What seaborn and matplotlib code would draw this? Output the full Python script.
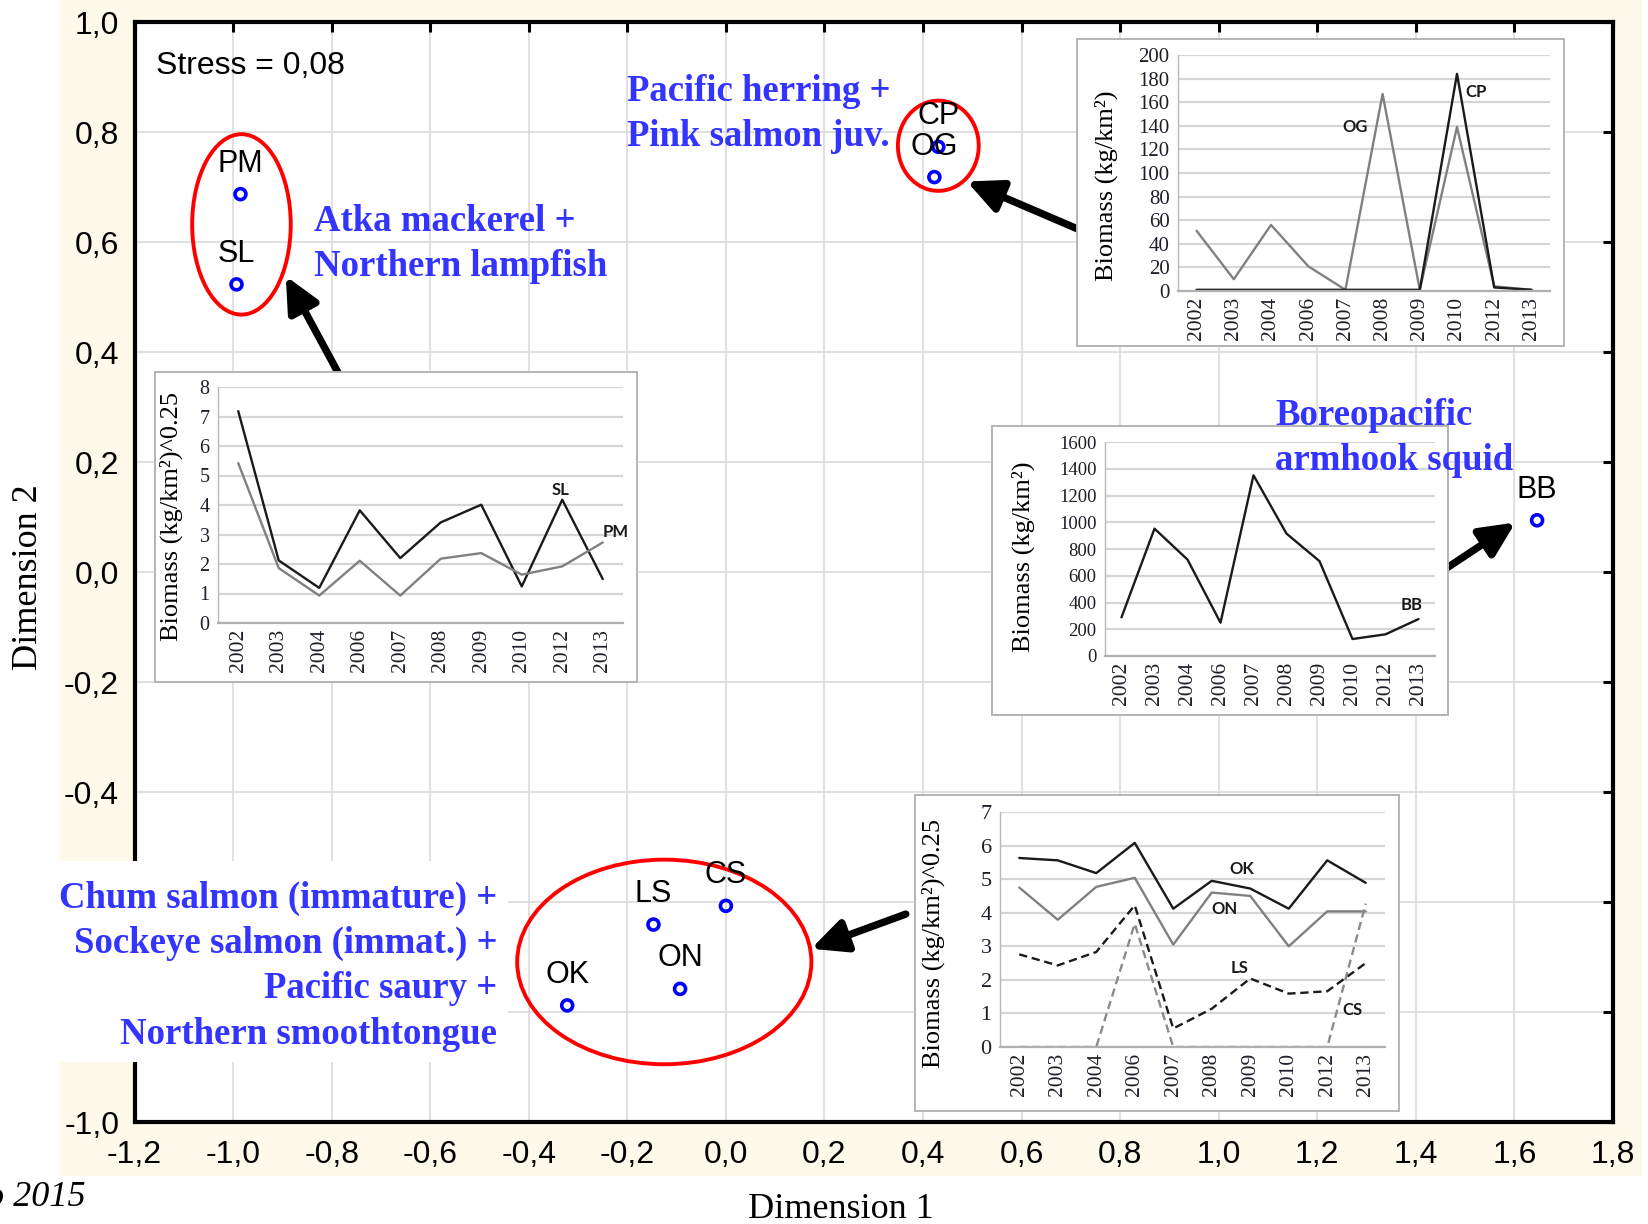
import numpy as np
import pandas as pd
import matplotlib
matplotlib.use("Agg")
import matplotlib.pyplot as plt
from matplotlib.patches import Ellipse, Rectangle
from matplotlib.ticker import FuncFormatter, FixedLocator
import seaborn as sns

# ---------------------------------------------------------------- data
# MDS ordination of species biomass (stress 0.08)
species_codes = ["PM", "SL", "CP", "OG", "BB", "LS", "CS", "ON", "OK"]
dimension_1 = [-0.985, -0.993, 0.431, 0.423, 1.646, -0.147, 0.000, -0.093, -0.322]
dimension_2 = [0.687, 0.523, 0.773, 0.718, 0.094, -0.641, -0.607, -0.758, -0.788]

years = ["2002", "2003", "2004", "2006", "2007", "2008", "2009", "2010", "2012", "2013"]

# Northern lampfish (SL) and Atka mackerel (PM), (kg/km2)^0.25
sl_biomass = [7.18, 2.12, 1.19, 3.82, 2.20, 3.41, 4.01, 1.24, 4.18, 1.49]
pm_biomass = [5.42, 1.86, 0.93, 2.11, 0.93, 2.18, 2.37, 1.64, 1.92, 2.73]

# Pink salmon juv. (CP) and Pacific herring (OG), kg/km2
cp_biomass = [1, 1, 1, 1, 1, 1, 1, 184, 3, 1]
og_biomass = [51, 10, 56, 21, 1, 167, 1, 139, 4, 1]

# Boreopacific armhook squid (BB), kg/km2
bb_biomass = [289, 952, 721, 249, 1351, 915, 709, 127, 162, 276]

# Chum salmon (OK), Northern smoothtongue (ON), Sockeye salmon (LS),
# Pacific saury (CS), (kg/km2)^0.25
ok_biomass = [5.63, 5.56, 5.18, 6.08, 4.12, 4.95, 4.72, 4.12, 5.56, 4.89]
on_biomass = [4.75, 3.79, 4.77, 5.04, 3.05, 4.60, 4.50, 3.00, 4.04, 4.04]
ls_biomass = [2.76, 2.43, 2.83, 4.22, 0.55, 1.14, 2.04, 1.59, 1.66, 2.50]
cs_biomass = [0, 0, 0, 3.67, 0, 0, 0, 0, 0, 4.27]

# ---------------------------------------------------------------- style
W, H = 1648, 1224
CREAM = "#fff9ec"
BLUE_TXT = "#3434ff"
SANS = "Liberation Sans"
SERIF = "Liberation Serif"
LABEL_FONT = ["Lato", "DejaVu Sans"]
INK = "#1a1a1a"
GREY_LINE = "#808080"
TICK_INK = "#1e1e2a"

sns.set_style("white")


def frac(l, t, r, b):
    """Pixel box (left, top, right, bottom) -> figure fraction rect."""
    return [l / W, 1 - b / H, (r - l) / W, (b - t) / H]


fig = plt.figure(figsize=(W / 100, H / 100), dpi=100)
fig.patch.set_facecolor("white")

# background panel
fig.add_artist(Rectangle((59 / W, 1 - 1176 / H), (1642 - 59) / W, 1176 / H,
                         transform=fig.transFigure, facecolor=CREAM,
                         edgecolor="none", zorder=-10))

# ---------------------------------------------------------------- main MDS plot
ax = fig.add_axes(frac(134.5, 22, 1613, 1122))
ax.set_zorder(0)
ax.set_facecolor("white")

mds = pd.DataFrame({"code": species_codes, "dim1": dimension_1, "dim2": dimension_2})
sns.scatterplot(data=mds, x="dim1", y="dim2", ax=ax, s=62, color="#0000ff",
                linewidth=2.6, zorder=4, legend=False)
pts = ax.collections[-1]
pts.set_facecolor("none")
pts.set_edgecolor("#0000ff")

for code, x, y in zip(mds["code"], mds["dim1"], mds["dim2"]):
    ax.annotate(code, (x, y), xytext=(0, 22), textcoords="offset points",
                ha="center", va="center", fontsize=22, family=SANS,
                color="black", zorder=5)

# group ellipses
for cx, cy, w, h in [(-0.983, 0.632, 0.200, 0.328),
                     (0.431, 0.775, 0.164, 0.164),
                     (-0.125, -0.709, 0.597, 0.372)]:
    ax.add_patch(Ellipse((cx, cy), w, h, fill=False, edgecolor="#ff0000",
                         linewidth=2.8, zorder=3))

# pointers from the trend panels to their groups
for head, tail in [((-0.893, 0.538), (-0.786, 0.361)),
                   ((0.489, 0.710), (0.713, 0.624)),
                   ((1.602, 0.090), (1.437, -0.008)),
                   ((0.173, -0.685), (0.365, -0.622))]:
    ax.annotate("", xy=head, xytext=tail, annotation_clip=False,
                arrowprops=dict(arrowstyle="-|>,head_length=1.05,head_width=0.5",
                                mutation_scale=20, lw=5.3, color="black",
                                shrinkA=0, shrinkB=0), zorder=6)


def comma_fmt(v, p):
    v = round(v, 1) + 0.0
    return f"{v:.1f}".replace(".", ",")


# the two y labels that sit under the lower-left caption band stay blank
HIDDEN_Y = {-0.6, -0.8}


def comma_fmt_y(v, p):
    if round(v, 1) + 0.0 in HIDDEN_Y:
        return ""
    return comma_fmt(v, p)


ax.set_xlim(-1.2, 1.8)
ax.set_ylim(-1.0, 1.0)
ax.xaxis.set_major_locator(FixedLocator(np.round(np.arange(-1.2, 1.81, 0.2), 1)))
ax.yaxis.set_major_locator(FixedLocator(np.round(np.arange(-1.0, 1.01, 0.2), 1)))
ax.xaxis.set_major_formatter(FuncFormatter(comma_fmt))
ax.yaxis.set_major_formatter(FuncFormatter(comma_fmt_y))
ax.grid(True, color="#dadada", linewidth=1.2)
ax.set_axisbelow(True)
ax.tick_params(direction="in", length=7, width=2.2, top=True, right=True,
               labelsize=23, labelfontfamily=SANS, colors="black")
ax.tick_params(axis="x", pad=13)
ax.tick_params(axis="y", pad=11)
for sp in ax.spines.values():
    sp.set_linewidth(3.0)
    sp.set_color("black")
ax.set_xlabel("")
ax.set_ylabel("")

# white band carrying the lower-left caption, laid over the axis frame
fig.add_artist(Rectangle((0, 1 - 1062 / H), 508 / W, (1062 - 861) / H,
                         transform=fig.transFigure, facecolor="white",
                         edgecolor="none", zorder=0.5))

fig.text(156 / W, 1 - 66 / H, "Stress = 0,08", ha="left", va="center",
         fontsize=23, family=SANS, color="black")
fig.text(841 / W, 1 - 1209 / H, "Dimension 1", ha="center", va="center",
         fontsize=26, family=SERIF, color="black")
fig.text(29 / W, 1 - 577 / H, "Dimension 2", ha="center", va="center",
         rotation=90, fontsize=26, family=SERIF, color="black")
fig.text(86 / W, 1 - 1198 / H, "o 2015", ha="right", va="center",
         fontsize=26, family=SERIF, style="italic", color="black")

# ---------------------------------------------------------------- trend panels
idx = np.arange(len(years))


def trend_panel(box, plot, ymax, ystep, series, palette, dashes, ylabel,
                ylabel_xy, notes, ytick_size=14):
    l, t, r, b = box
    fig.add_artist(Rectangle((l / W, 1 - b / H), (r - l) / W, (b - t) / H,
                             transform=fig.transFigure, facecolor="white",
                             edgecolor="#b4b4b4", linewidth=1.4, zorder=1))
    iax = fig.add_axes(frac(*plot))
    iax.set_zorder(2)
    iax.patch.set_alpha(0)
    names = list(series.keys())
    df = pd.DataFrame({
        "year_idx": np.tile(idx, len(names)),
        "value": np.concatenate([series[n] for n in names]),
        "series": np.repeat(names, len(idx)),
    })
    sns.lineplot(data=df, x="year_idx", y="value", hue="series", hue_order=names,
                 style="series", style_order=names, palette=palette,
                 dashes=dashes, linewidth=1.7, ax=iax, legend=False)
    iax.set_xlim(-0.5, len(years) - 0.5)
    iax.set_ylim(0, ymax)
    iax.set_yticks(np.arange(0, ymax + ystep / 2, ystep))
    iax.set_yticklabels([f"{int(v)}" for v in np.arange(0, ymax + ystep / 2, ystep)],
                        fontsize=ytick_size, family=SERIF, color=TICK_INK)
    iax.set_xticks(idx)
    iax.set_xticklabels(years, rotation=90, fontsize=15.5, family=SERIF, color=TICK_INK)
    iax.set_xticks(np.arange(-0.5, len(years), 1.0), minor=True)
    iax.tick_params(axis="x", which="major", length=0, pad=4)
    iax.tick_params(axis="x", which="minor", length=5, width=1, color="#b0b0b0",
                    direction="out")
    iax.tick_params(axis="y", length=4, width=1, color="#b0b0b0", pad=2)
    iax.grid(axis="y", color="#d6d6d6", linewidth=1.6)
    iax.grid(axis="x", visible=False)
    iax.set_axisbelow(True)
    for side in ("top", "right"):
        iax.spines[side].set_visible(False)
    iax.spines["left"].set_color("#b8b8b8")
    iax.spines["left"].set_linewidth(1.0)
    iax.spines["bottom"].set_color("#b0b0b0")
    iax.spines["bottom"].set_linewidth(1.6)
    iax.set_xlabel("")
    iax.set_ylabel("")
    fig.text(ylabel_xy[0] / W, 1 - ylabel_xy[1] / H, ylabel, rotation=90,
             ha="center", va="center", fontsize=19, family=SERIF,
             color="black", zorder=3)
    for text, x, y in notes:
        iax.text(x, y, text, ha="center", va="center", fontsize=12,
                 weight="bold", family=LABEL_FONT, color=INK)
    return iax


# Atka mackerel + Northern lampfish
trend_panel(box=(155, 372, 637, 682), plot=(218, 387, 623, 623), ymax=8, ystep=1,
            series={"SL": sl_biomass, "PM": pm_biomass},
            palette={"SL": INK, "PM": GREY_LINE},
            dashes={"SL": "", "PM": ""},
            ylabel="Biomass (kg/km²)^0.25", ylabel_xy=(171, 516),
            notes=[("SL", 7.95, 4.52), ("PM", 9.32, 3.07)], ytick_size=14.5)

# Pacific herring + Pink salmon juv.
trend_panel(box=(1077, 39, 1564, 346), plot=(1178, 55, 1550, 291), ymax=200, ystep=20,
            series={"OG": og_biomass, "CP": cp_biomass},
            palette={"OG": GREY_LINE, "CP": INK},
            dashes={"OG": "", "CP": ""},
            ylabel="Biomass (kg/km²)", ylabel_xy=(1106, 186),
            notes=[("OG", 4.26, 138.6), ("CP", 7.5, 169)], ytick_size=15)

# Boreopacific armhook squid
trend_panel(box=(992, 426, 1448, 715), plot=(1105, 442, 1435, 656), ymax=1600, ystep=200,
            series={"BB": bb_biomass},
            palette={"BB": INK},
            dashes={"BB": ""},
            ylabel="Biomass (kg/km²)", ylabel_xy=(1023, 557),
            notes=[("BB", 8.78, 381)], ytick_size=13.5)

# Chum + Sockeye salmon, Pacific saury, Northern smoothtongue
trend_panel(box=(915, 795, 1399, 1111), plot=(1000, 812, 1385, 1047), ymax=7, ystep=1,
            series={"OK": ok_biomass, "ON": on_biomass, "LS": ls_biomass, "CS": cs_biomass},
            palette={"OK": INK, "ON": GREY_LINE, "LS": INK, "CS": "#8a8a8a"},
            dashes={"OK": "", "ON": "", "LS": (3.5, 2), "CS": (3.5, 2)},
            ylabel="Biomass (kg/km²)^0.25", ylabel_xy=(933, 944),
            notes=[("OK", 5.78, 5.31), ("ON", 5.34, 4.12), ("LS", 5.73, 2.35),
                   ("CS", 8.66, 1.11)], ytick_size=16)

# ---------------------------------------------------------------- group captions
caption_kw = dict(fontsize=26.5, weight="bold", family=SERIF, color=BLUE_TXT,
                  linespacing=1.38, zorder=3)
fig.text(627 / W, 1 - 114 / H, "Pacific herring +\nPink salmon juv.",
         ha="left", va="center", **caption_kw)
fig.text(314 / W, 1 - 244 / H, "Atka mackerel +\nNorthern lampfish",
         ha="left", va="center", **caption_kw)
fig.text(1275 / W, 1 - 438 / H, "Boreopacific\narmhook squid",
         ha="left", va="center", **caption_kw)
fig.text(497 / W, 1 - 966 / H,
         "Chum salmon (immature) +\nSockeye salmon (immat.) +\nPacific saury +\nNorthern smoothtongue",
         ha="right", va="center", multialignment="right", **caption_kw)

fig.savefig("out.png", dpi=100, facecolor=fig.get_facecolor())
